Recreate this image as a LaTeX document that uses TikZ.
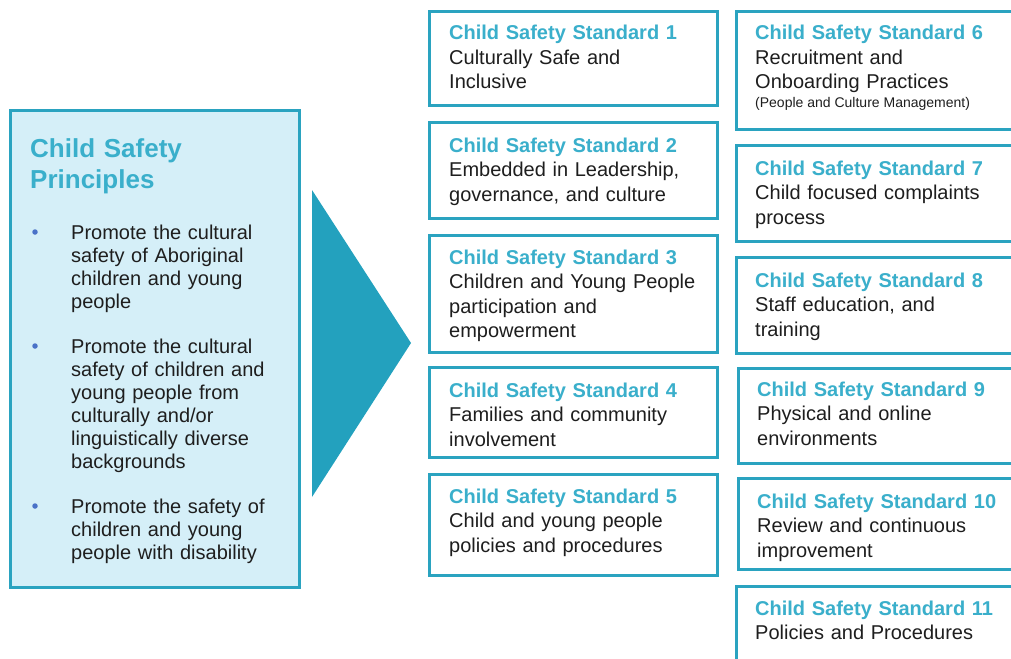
\documentclass[tikz,border=0pt]{standalone}
\usepackage{fontspec}
\setmainfont{Liberation Sans}
\usepackage{tikz}
\usetikzlibrary{positioning}
\usepackage{xcolor}
\definecolor{csborder}{HTML}{2AA3C0}
\definecolor{cstitle}{HTML}{3AAFCB}
\definecolor{csfill}{HTML}{D5EFF8}
\definecolor{csarrow}{HTML}{23A1BE}
\definecolor{csbullet}{HTML}{4A72C8}
\definecolor{cstext}{HTML}{1E1E1E}
\newcommand{\Stitle}[1]{\textcolor{cstitle}{\textbf{#1}}}
\tikzset{stdbox/.style={rectangle,draw=csborder,line width=3pt,fill=white,inner sep=0pt}}
\tikzset{stdtext/.style={anchor=base west,inner sep=0pt,text width=300pt,align=left,text=cstext,font=\fontsize{20}{24.5}\selectfont}}
\tikzset{princtext/.style={anchor=base west,inner sep=0pt,text width=225pt,align=left,text=cstext,font=\fontsize{20}{23}\selectfont}}
\tikzset{bulletdot/.style={circle,fill=csbullet,inner sep=0pt,minimum size=5.5pt}}
\begin{document}
\begin{tikzpicture}[x=1pt,y=-1pt]
\useasboundingbox (0,0) rectangle (1011,658);
\clip (0,0) rectangle (1011,658);
%
% principles box
{
\node (princ) [stdbox,fill=csfill,minimum width=289pt,minimum height=476pt] at (154.5,349) {};
\node (princtitle) [anchor=base west,inner sep=0pt,text width=250pt,align=left,font=\fontsize{26}{32}\selectfont\bfseries,text=cstitle] at (30,157) {Child Safety\\Principles};
\node (b1) [bulletdot] at (35,232) {};
\node (p1) [princtext] at (71,239) {Promote the cultural\\safety of Aboriginal\\children and young\\people};
\node (b2) [bulletdot] at (35,346) {};
\node (p2) [princtext] at (71,353) {Promote the cultural\\safety of children and\\young people from\\culturally and/or\\linguistically diverse\\backgrounds};
\node (b3) [bulletdot] at (35,506) {};
\node (p3) [princtext] at (71,513) {Promote the safety of\\children and young\\people with disability};
}
%
% arrow
\fill[csarrow] (312,190) -- (411,343) -- (312,497) -- cycle;
%
% standards 1 to 5
{
\node (s1) [stdbox,minimum width=288pt,minimum height=94pt] at (573,59) {};
\node (t1) [stdtext] at (449,40) {\Stitle{Child Safety Standard 1}\\Culturally Safe and\\Inclusive};
\node (s2) [stdbox,minimum width=288pt,minimum height=95pt] at (573,170.5) {};
\node (t2) [stdtext] at (449,152) {\Stitle{Child Safety Standard 2}\\Embedded in Leadership,\\governance, and culture};
\node (s3) [stdbox,minimum width=288pt,minimum height=117pt] at (573,293.5) {};
\node (t3) [stdtext] at (449,264) {\Stitle{Child Safety Standard 3}\\Children and Young People\\participation and\\empowerment};
\node (s4) [stdbox,minimum width=288pt,minimum height=90pt] at (573,412) {};
\node (t4) [stdtext] at (449,397) {\Stitle{Child Safety Standard 4}\\Families and community\\involvement};
\node (s5) [stdbox,minimum width=288pt,minimum height=101pt] at (573,524.5) {};
\node (t5) [stdtext] at (449,503) {\Stitle{Child Safety Standard 5}\\Child and young people\\policies and procedures};
}
%
% standards 6 to 11
{
\node (s6) [stdbox,minimum width=289pt,minimum height=117pt] at (880.5,70.5) {};
\node (t6) [stdtext] at (755,40) {\Stitle{Child Safety Standard 6}\\Recruitment and\\Onboarding Practices\\[-5.5pt]{\fontsize{14}{16}\selectfont\spaceskip=0pt\xspaceskip=0pt(People and Culture Management)}};
\node (s7) [stdbox,minimum width=289pt,minimum height=96pt] at (880.5,193) {};
\node (t7) [stdtext] at (755,175) {\Stitle{Child Safety Standard 7}\\Child focused complaints\\process};
\node (s8) [stdbox,minimum width=289pt,minimum height=96pt] at (880.5,305) {};
\node (t8) [stdtext] at (755,287) {\Stitle{Child Safety Standard 8}\\Staff education, and\\training};
\node (s9) [stdbox,minimum width=287pt,minimum height=95pt] at (881.5,415.5) {};
\node (t9) [stdtext] at (757,396) {\Stitle{Child Safety Standard 9}\\Physical and online\\environments};
\node (s10) [stdbox,minimum width=287pt,minimum height=91pt] at (881.5,523.5) {};
\node (t10) [stdtext] at (757,508) {\Stitle{Child Safety Standard 10}\\Review and continuous\\improvement};
\node (s11) [stdbox,minimum width=289pt,minimum height=86pt] at (880.5,629) {};
\node (t11) [stdtext] at (755,615) {\Stitle{Child Safety Standard 11}\\Policies and Procedures};
}
\end{tikzpicture}
\end{document}
